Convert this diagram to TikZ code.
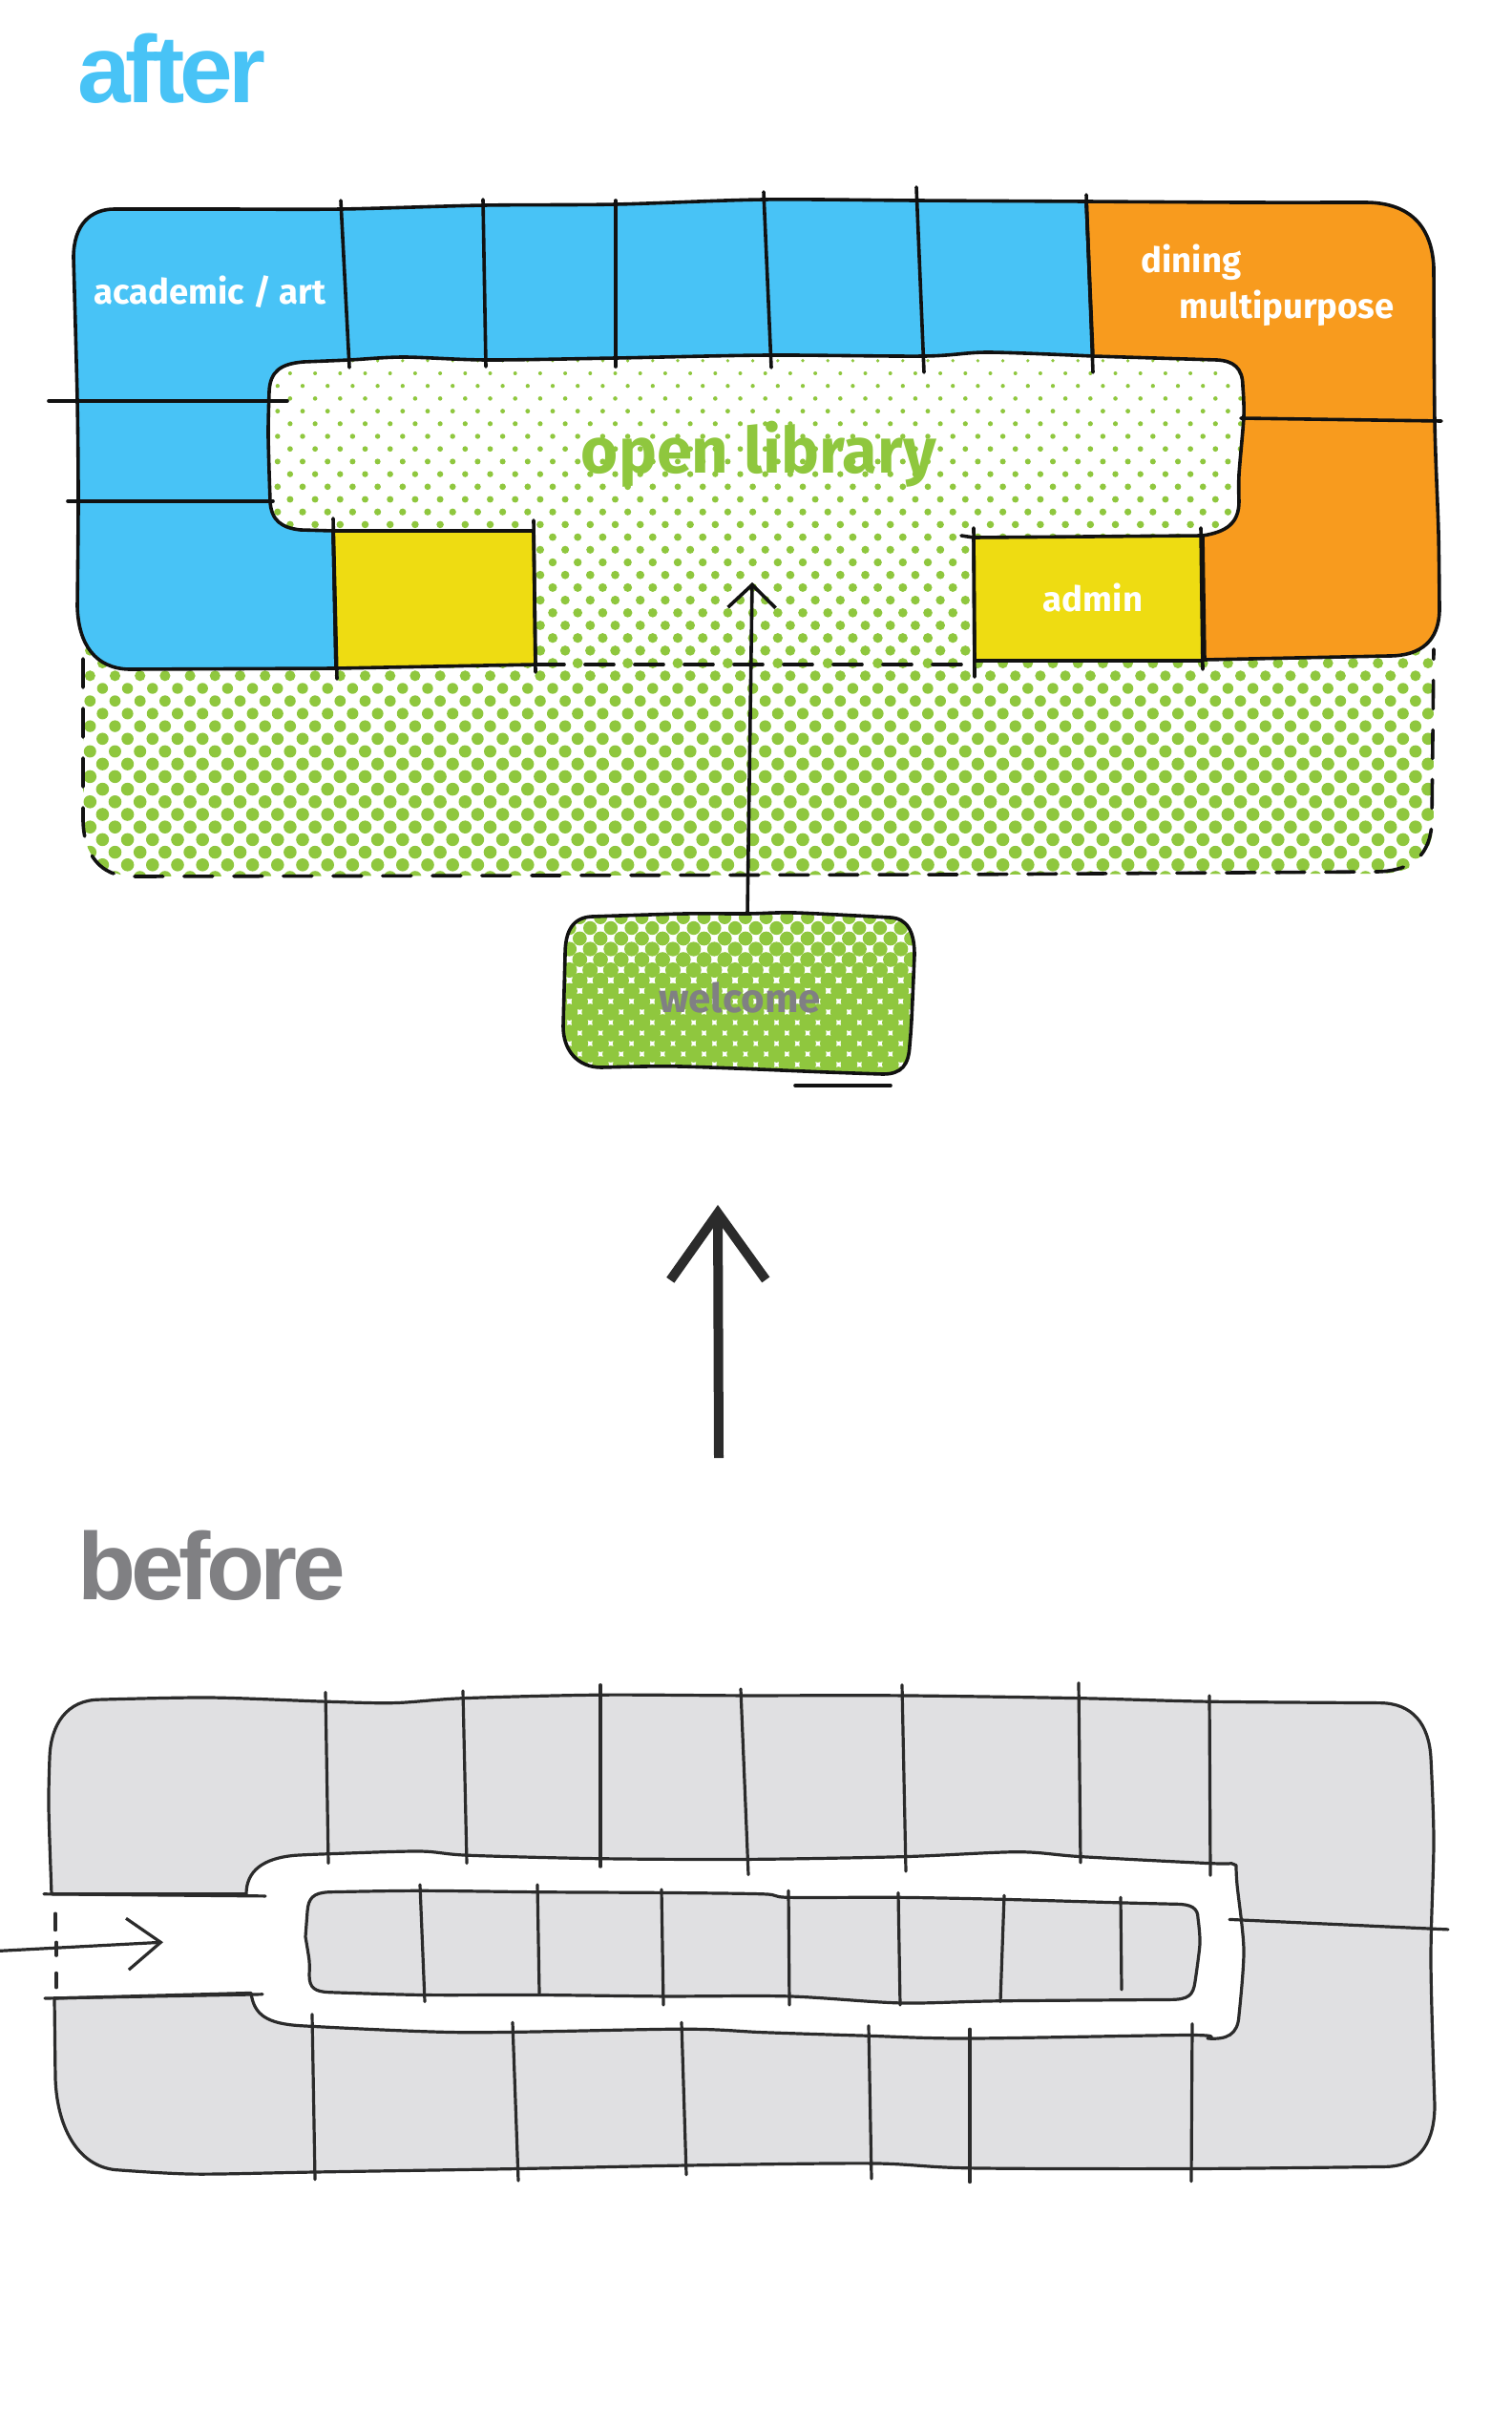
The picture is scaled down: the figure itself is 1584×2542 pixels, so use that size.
\documentclass[tikz,border=0pt]{standalone}
\usepackage{fontspec}
\usepackage{tikz}
\usetikzlibrary{arrows.meta}
\setmainfont{Fira Sans}
\newfontfamily\headfont[LetterSpace=-5.0]{Liberation Sans}
\definecolor{Ink}{HTML}{111111}
\definecolor{Pencil}{HTML}{2B2B2B}
\definecolor{Sky}{HTML}{48C3F6}
\definecolor{Amber}{HTML}{F89B1E}
\definecolor{Lemon}{HTML}{EEDC12}
\definecolor{Leaf}{HTML}{8FC73E}
\definecolor{Stone}{HTML}{E0E0E2}
\definecolor{Slate}{HTML}{808083}
\newcommand{\welcomeoutline}{(592,1000) .. controls (592,975) and (600,961) .. (620,960)
  -- plot[smoothline] coordinates {(620,960) (717,957) (783,957) (833,956) (933,961)} .. controls (950,962) and (958,975) .. (958,1000)
  -- plot[smoothline] coordinates {(958,1000) (955,1068) (953,1095)} .. controls (952,1115) and (945,1125) .. (925,1125)
  -- plot[smoothline] coordinates {(925,1125) (867,1123) (713,1117) (630,1118)} .. controls (605,1118) and (590,1100) .. (590,1075) -- cycle}
\tikzset{
  ink/.style={draw=Ink,line width=3.6pt,line join=round,line cap=round},
  pencil/.style={draw=Pencil,line width=3.2pt,line join=round,line cap=round},
  head/.style={inner sep=0pt,anchor=base west,font=\headfont\bfseries\fontsize{100}{100}\selectfont},
  room/.style={inner sep=0pt,text=white,font=\bfseries\fontsize{36.5}{36}\selectfont},
  smoothline/.style={smooth,tension=.5},
}
\begin{document}
\begin{tikzpicture}[x=1pt,y=-1pt]
\useasboundingbox (0,0) rectangle (1584,2542);
\node[head,text=Sky] (after) at (81,108) {after};
\node[head,text=Slate] (before) at (81,1675) {before};
% halftone of the open library
\begin{scope}
\clip (87,370) -- (1502,370) -- (1502,860) .. controls (1500,900) and (1480,915) .. (1443,915) -- (138,918) .. controls (105,915) and (87,895) .. (87,860) -- cycle;
\foreach \k in {-1,...,41}{
  \pgfmathsetmacro{\rowy}{391+13.2*\k}
  \pgfmathsetmacro{\rowx}{408.7-26.2*13+13.1*mod(\k+2,2)}
  \pgfmathsetmacro{\dotr}{min(6.8,2+0.0113*(\rowy-391))}
  \foreach \m in {0,...,56}
    \fill[Leaf] (\rowx+26.2*\m,\rowy) circle[radius=\dotr];
}
\end{scope}
% academic and dining blocks
\path[ink,fill=Sky] plot[smoothline] coordinates {(1138,211) (960,210) (800,209) (645,214) (507,215) (357,219) (230,219) (120,219)} .. controls (95,219) and (77,235) .. (77,270)
  -- plot[smoothline] coordinates {(77,270) (81,420) (82,525) (81,635)} .. controls (82,675) and (100,700) .. (135,701)
  -- (352,700) -- (349,556) -- (315,555) .. controls (295,553) and (284,545) .. (283,525)
  -- plot[smoothline] coordinates {(283,525) (281,456) (282,410)} .. controls (283,388) and (295,381) .. (318,379)
  -- plot[smoothline] coordinates {(318,379) (366,377) (423,374) (510,377) (645,375) (805,372) (968,373) (1035,369) (1145,373)} -- cycle;
\path[ink,fill=Amber] plot[smoothline] coordinates {(1138,211) (1300,212) (1430,212)} .. controls (1475,212) and (1500,235) .. (1502,280)
  -- plot[smoothline] coordinates {(1502,280) (1503,441) (1507,558) (1508,640)} .. controls (1507,670) and (1490,687) .. (1455,687)
  -- (1262,691) -- (1260,561) .. controls (1285,557) and (1298,548) .. (1298,525)
  -- plot[smoothline] coordinates {(1298,525) (1298,497) (1303,436) (1302,405)} .. controls (1302,385) and (1292,378) .. (1275,377) -- (1145,373) -- cycle;
\path[ink,fill=Lemon] (349,556) -- (559,556) -- (561,696) -- (352,700) -- cycle;
\path[ink,fill=Lemon] (1020,563) -- (1260,561) -- (1260,692) -- (1021,692) -- cycle;
% wall ticks
\foreach \xa/\ya/\xb/\yb in {357/210/366/385,506/209/509/384,645/210/645/384,800/201/808/385,960/196/968/390,1138/204/1145/390,
  51/420/301/420,71/525/286/525,1300/438/1510/441,
  349/543/353/711,559/545/561/704,1020/553/1021/709,1258/553/1260/701,1007/561/1020/563}
  \draw[ink] (\xa,\ya) -- (\xb,\yb);
% dashed edge of the library
\draw[ink,dash pattern=on 30pt off 22pt] (561,696) -- (1020,696);
\draw[ink,dash pattern=on 30pt off 22pt] (87,690) -- (87,860) .. controls (88,895) and (105,918) .. (138,918) -- (1000,916) -- (1443,913) .. controls (1480,912) and (1499,895) .. (1500,860) -- (1502,680);
% welcome box
\begin{scope}
\clip \welcomeoutline;
\foreach \k in {0,...,16}{
  \pgfmathsetmacro{\rowy}{950+11*\k}
  \pgfmathsetmacro{\rowx}{585.65+10.85*mod(\k+1,2)}
  \pgfmathsetmacro{\dotr}{min(8.8,6.9+0.019*(\rowy-957))}
  \foreach \m in {0,...,18}
    \fill[Leaf] (\rowx+21.7*\m,\rowy) circle[radius=\dotr];
}
\end{scope}
\draw[ink] \welcomeoutline;
\draw[ink] (833,1137) -- (933,1137);
% labels
\node[room] (academic) at (220,306) {academic / art};
\node[room] (dining) at (1248,275) {dining};
\node[room] (multipurpose) at (1348,323) {multipurpose};
\node[room] (admin) at (1145,626) {admin};
\node[inner sep=0pt,text=Leaf,font=\bfseries\fontsize{67}{67}\selectfont] (library) at (795,476) {open library};
\node[inner sep=0pt,text=Slate,font=\bfseries\fontsize{42}{42}\selectfont] (welcome) at (775,1045) {welcome};
% route in from the welcome box
\coordinate (welcometop) at (783,957);
\coordinate (librarytip) at (788,610);
\draw[ink,-{Straight Barb[length=24pt,width=50pt]}] (welcometop) -- (librarytip);
% arrow between the two plans
\coordinate (planstart) at (753,1527);
\coordinate (plantip) at (752,1262);
\draw[draw=Pencil,line width=10pt,-{Straight Barb[length=70pt,width=100pt]}] (planstart) -- (plantip);
% before plan
\begin{scope}[yshift=-525pt,y=-0.7pt]
\path[pencil,fill=Stone] plot[smoothline] coordinates {(54,2084) (51,1954) (52,1880)} .. controls (53,1830) and (70,1793) .. (105,1793)
  -- plot[smoothline] coordinates {(105,1793) (219,1790) (342,1796) (413,1798) (485,1791) (628,1786) (776,1787) (943,1787) (1132,1791) (1267,1796) (1445,1798)} .. controls (1480,1798) and (1497,1830) .. (1499,1880)
  -- plot[smoothline] coordinates {(1499,1880) (1502,2005) (1499,2184) (1503,2400)} .. controls (1503,2450) and (1490,2492) .. (1450,2492)
  -- plot[smoothline] coordinates {(1450,2492) (1247,2495) (1015,2494) (913,2487) (719,2490) (543,2495) (329,2500) (204,2503) (125,2497)} .. controls (85,2495) and (60,2440) .. (58,2360)
  -- (57,2240) -- (263,2232) .. controls (266,2265) and (280,2278) .. (315,2281)
  -- plot[smoothline] coordinates {(315,2281) (485,2291) (714,2286) (800,2291) (908,2296) (1015,2300) (1247,2295) (1265,2300)} .. controls (1285,2302) and (1297,2295) .. (1298,2265)
  -- plot[smoothline] coordinates {(1298,2265) (1303,2168) (1296,2070) (1295,2041)} -- (1290,2038)
  -- plot[smoothline] coordinates {(1290,2038) (1267,2038) (1132,2028) (1066,2021) (948,2028) (785,2032) (628,2031) (490,2026) (439,2020) (342,2024) (310,2026)} .. controls (275,2030) and (258,2050) .. (258,2084) -- cycle;
\path[pencil,fill=Stone] (322,2110) .. controls (323,2090) and (328,2082) .. (345,2081)
  -- plot[smoothline] coordinates {(345,2081) (439,2079) (564,2081) (694,2082) (800,2084) (826,2089) (941,2089) (1053,2092) (1175,2097) (1232,2099)} .. controls (1248,2099) and (1255,2105) .. (1255,2120)
  -- plot[smoothline] coordinates {(1255,2120) (1257,2158) (1252,2215)} .. controls (1250,2236) and (1245,2242) .. (1225,2242)
  -- plot[smoothline] coordinates {(1225,2242) (1045,2244) (943,2247) (826,2237) (694,2237) (564,2235) (444,2235) (345,2231)} .. controls (330,2230) and (324,2225) .. (324,2205)
  -- plot[smoothline] coordinates {(324,2205) (324,2184) (320,2148)} -- cycle;
\foreach \xa/\ya/\xb/\yb in {341/1782/344/2038,485/1780/489/2038,629/1771/629/2043,776/1777/784/2055,945/1771/949/2050,1130/1768/1132/2037,1267/1787/1268/2056,
  440/2070/445/2245,563/2070/565/2232,693/2077/695/2250,826/2079/827/2250,941/2082/943/2250,1052/2086/1048/2245,1174/2089/1175/2227,
  327/2264/330/2511,537/2276/543/2513,714/2276/719/2504,910/2281/913/2510,1016/2286/1016/2515,1249/2278/1248/2514,
  1288/2122/1517/2137,46/2084/278/2087,47/2240/275/2234,
  58/2113/58/2138,59/2156/59/2176,59/2202/59/2224}
  \draw[pencil] (\xa,\ya) -- (\xb,\yb);
% entrance arrow
\coordinate (streetstart) at (0,2169);
\coordinate (streettip) at (171,2156);
\draw[pencil,-{Straight Barb[length=35pt,width=54pt]}] (streetstart) -- (streettip);
\end{scope}
\end{tikzpicture}
\end{document}
